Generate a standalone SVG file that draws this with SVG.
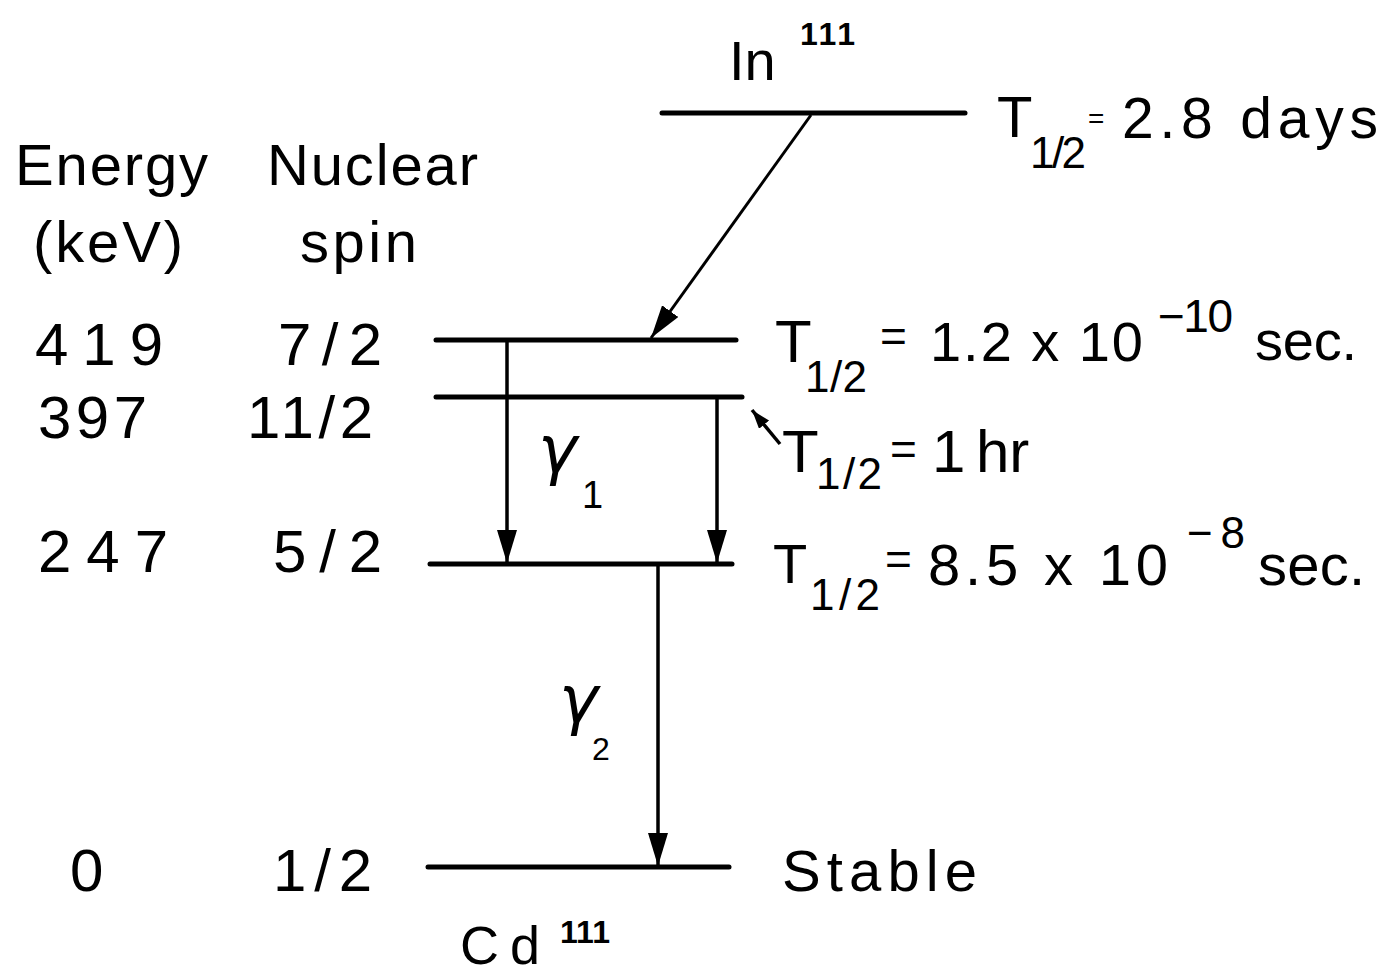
<svg xmlns="http://www.w3.org/2000/svg" width="1390" height="975" viewBox="0 0 1390 975">
  <defs>
    <style>
      text { font-family: "Liberation Sans", Arial, sans-serif; fill: #000; }
      .lbl { font-size: 58px; }
      .num { font-size: 60px; }
      .sub { font-size: 44px; }
      .sup { font-size: 32px; font-weight: bold; }
      .gam { font-size: 66px; font-style: italic; font-family: "DejaVu Sans", sans-serif; }
      .level { stroke: #000; stroke-width: 5; stroke-linecap: round; fill: none; }
      .arr { stroke: #000; stroke-width: 3.5; fill: none; }
    </style>
    <marker id="head" markerUnits="userSpaceOnUse" markerWidth="34" markerHeight="22" refX="33" refY="10" orient="auto">
      <path d="M0,0 L33,10 L0,20 Z" fill="#000"/>
    </marker>
    <marker id="headSmall" markerUnits="userSpaceOnUse" markerWidth="20" markerHeight="14" refX="19" refY="6.5" orient="auto">
      <path d="M0,0 L19,6.5 L0,13 Z" fill="#000"/>
    </marker>
  </defs>
  <rect width="1390" height="975" fill="#fff"/>

  <!-- column headers -->
  <g id="headers">
    <text class="lbl" x="15" y="185" textLength="193" lengthAdjust="spacing">Energy</text>
    <text class="lbl" x="267" y="185" textLength="211" lengthAdjust="spacing">Nuclear</text>
    <text class="lbl" x="33" y="262" textLength="150" lengthAdjust="spacing">(keV)</text>
    <text class="lbl" x="300" y="262" textLength="117" lengthAdjust="spacing">spin</text>
  </g>

  <!-- In-111 parent level -->
  <g id="level-in111">
    <line class="level" x1="662" y1="113" x2="965" y2="113"/>
    <text x="729" y="80" style="font-size:56px">In</text>
    <text class="sup" x="800" y="45" textLength="55" lengthAdjust="spacing">111</text>
    <text x="997" y="137" style="font-size:58px">T</text>
    <text class="sub" x="1030" y="168" textLength="56" lengthAdjust="spacing">1/2</text>
    <text x="1088" y="128" style="font-size:28px">=</text>
    <text x="1122" y="138" style="font-size:57px" textLength="256" lengthAdjust="spacing">2.8 days</text>
  </g>

  <!-- 419 keV level -->
  <g id="level-419">
    <line class="level" x1="436" y1="340" x2="736" y2="340"/>
    <text class="num" x="35" y="365" textLength="128" lengthAdjust="spacing">419</text>
    <text class="num" x="278" y="365" textLength="104" lengthAdjust="spacing">7/2</text>
    <text x="775" y="362" style="font-size:60px">T</text>
    <text class="sub" x="805" y="392" textLength="62" lengthAdjust="spacing">1/2</text>
    <text x="880" y="352" style="font-size:46px">=</text>
    <text x="930" y="361" style="font-size:56px" textLength="213" lengthAdjust="spacing">1.2 x 10</text>
    <text x="1158" y="332" style="font-size:46px" textLength="75" lengthAdjust="spacing">−10</text>
    <text x="1255" y="360" style="font-size:56px" textLength="102" lengthAdjust="spacing">sec.</text>
  </g>

  <!-- 397 keV level -->
  <g id="level-397">
    <line class="level" x1="436" y1="397" x2="742" y2="397"/>
    <text class="num" x="38" y="438" textLength="109" lengthAdjust="spacing">397</text>
    <text class="num" x="247" y="438" textLength="126" lengthAdjust="spacing">11/2</text>
    <text x="782" y="472" style="font-size:60px">T</text>
    <text class="sub" x="816" y="489" textLength="66" lengthAdjust="spacing">1/2</text>
    <text x="890" y="465" style="font-size:46px">=</text>
    <text x="932" y="472" style="font-size:60px">1</text>
    <text x="976" y="472" style="font-size:60px">hr</text>
  </g>

  <!-- 247 keV level -->
  <g id="level-247">
    <line class="level" x1="430" y1="564" x2="732" y2="564"/>
    <text class="num" x="38" y="572" textLength="130" lengthAdjust="spacing">247</text>
    <text class="num" x="273" y="572" textLength="109" lengthAdjust="spacing">5/2</text>
    <text x="773" y="583" style="font-size:56px">T</text>
    <text class="sub" x="810" y="610" textLength="70" lengthAdjust="spacing">1/2</text>
    <text x="885" y="575" style="font-size:46px">=</text>
    <text x="928" y="585" style="font-size:58px" textLength="240" lengthAdjust="spacing">8.5 x 10</text>
    <text x="1187" y="548" style="font-size:44px" textLength="58" lengthAdjust="spacing">−8</text>
    <text x="1258" y="585" style="font-size:58px" textLength="107" lengthAdjust="spacing">sec.</text>
  </g>

  <!-- ground level -->
  <g id="level-0">
    <line class="level" x1="428" y1="867" x2="729" y2="867"/>
    <text class="num" x="70" y="891">0</text>
    <text class="num" x="273" y="891" textLength="99" lengthAdjust="spacing">1/2</text>
    <text x="782" y="891" style="font-size:58px" textLength="195" lengthAdjust="spacing">Stable</text>
    <text x="460" y="964" style="font-size:54px" textLength="80" lengthAdjust="spacing">Cd</text>
    <text class="sup" x="560" y="943" textLength="50" lengthAdjust="spacing">111</text>
  </g>

  <!-- connectors -->
  <g id="connectors">
    <line class="arr" x1="811" y1="115" x2="651" y2="338" style="stroke-width:3" marker-end="url(#head)"/>
    <line class="arr" x1="507" y1="340" x2="507" y2="563" marker-end="url(#head)"/>
    <line class="arr" x1="717" y1="397" x2="717" y2="563" marker-end="url(#head)"/>
    <line class="arr" x1="658" y1="564" x2="658" y2="866" marker-end="url(#head)"/>
    <line class="arr" x1="780" y1="444" x2="752" y2="410" marker-end="url(#headSmall)"/>
  </g>

  <!-- gamma labels -->
  <g id="gamma-labels">
    <text class="gam" x="538" y="472">γ</text>
    <text x="582" y="508" style="font-size:38px">1</text>
    <text class="gam" x="559" y="722">γ</text>
    <text x="592" y="760" style="font-size:32px">2</text>
  </g>
</svg>
